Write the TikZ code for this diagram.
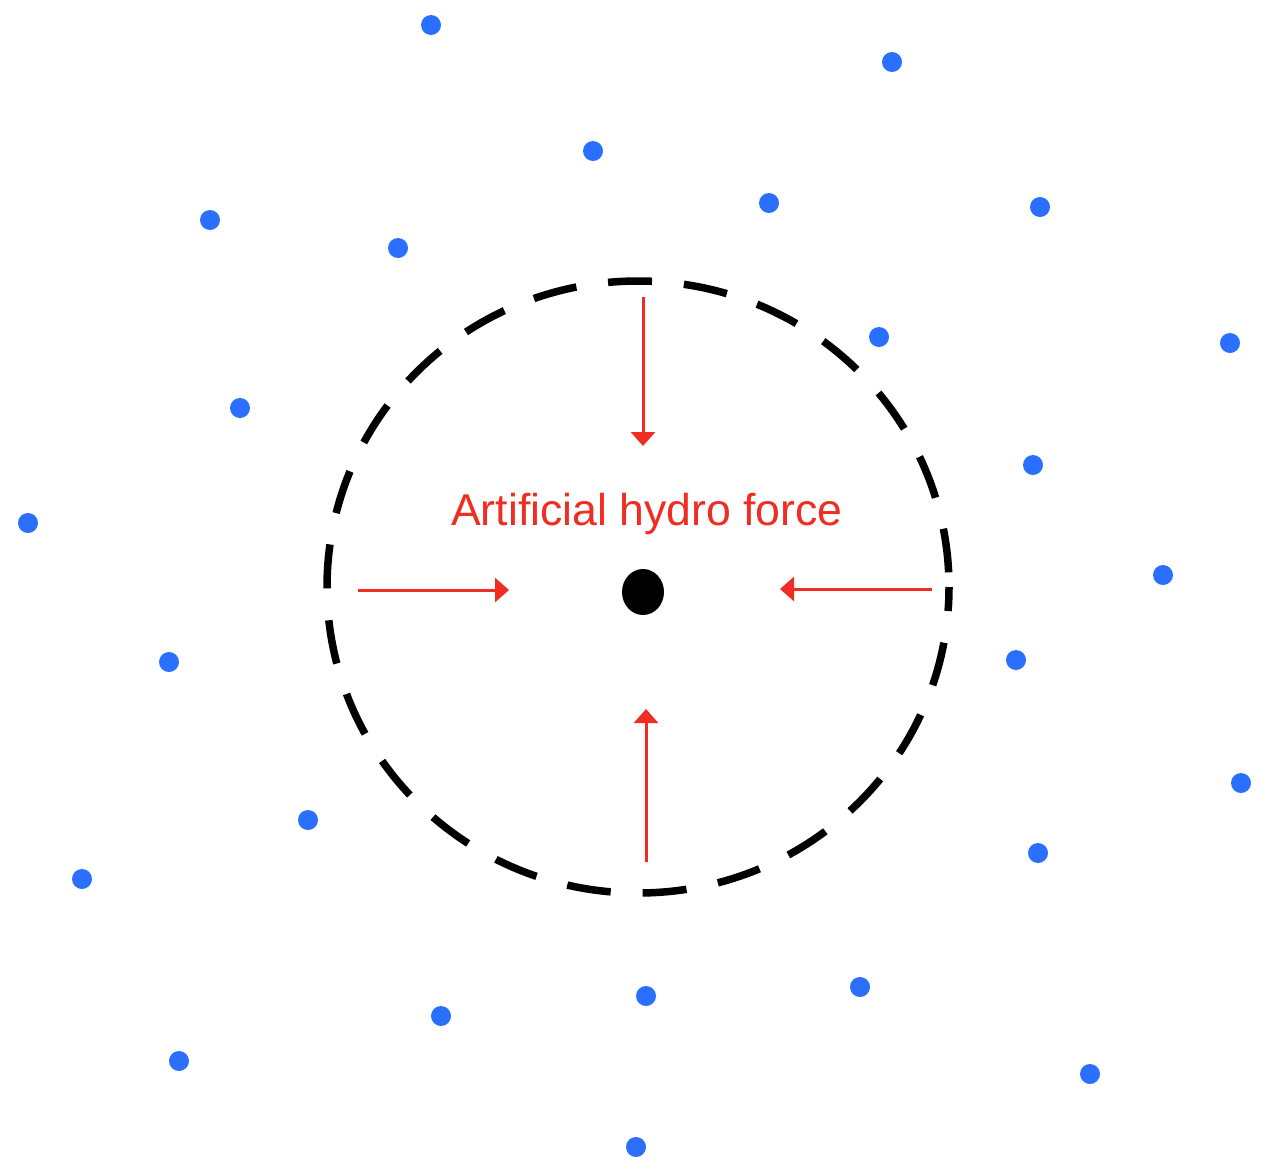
\documentclass[tikz,border=0pt]{standalone}
\usepackage{fontspec}
\setmainfont{Liberation Sans}
\usetikzlibrary{arrows.meta,shapes.geometric}
\definecolor{dotblue}{RGB}{43,111,255}
\definecolor{forcered}{RGB}{240,45,35}
\tikzset{
  particle/.style={circle,fill=dotblue,inner sep=0pt,minimum size=20pt},
  force/.style={draw=forcered,line width=3pt,-{Triangle[length=14pt,width=24pt]}},
  boundary/.style={draw=black,line width=7.5pt,dash pattern=on 44pt off 32pt,dash phase=20pt},
}
\begin{document}
\begin{tikzpicture}[x=1pt,y=-1pt]
\useasboundingbox (0,0) rectangle (1268,1160);
% kernel boundary
\draw[boundary] (638,587) ellipse [x radius=311, y radius=306];
% central particle
\node[ellipse,fill=black,inner sep=0pt,minimum width=42pt,minimum height=46pt] (c) at (643,592) {};
\node[text=forcered,font=\fontsize{44.6}{50}\selectfont,anchor=base] (lab) at (647,525) {Artificial hydro force};
% forces
\coordinate (t1) at (643,297); \coordinate (t2) at (643,446);
\coordinate (l1) at (358,590); \coordinate (l2) at (509,590);
\coordinate (r1) at (932,589); \coordinate (r2) at (780,589);
\coordinate (b1) at (646,862); \coordinate (b2) at (646,709);
\draw[force] (t1) -- (t2);
\draw[force] (l1) -- (l2);
\draw[force] (r1) -- (r2);
\draw[force] (b1) -- (b2);
% neighbour particles
\foreach \i/\x/\y in {1/431/25,2/892/62,3/593/151,4/210/220,5/769/203,6/1040/207,7/398/248,8/879/337,9/1230/343,10/240/408,11/1033/465,12/28/523,13/1163/575,14/169/662,15/1016/660,16/1241/783,17/308/820,18/82/879,19/1038/853,20/646/996,21/860/987,22/441/1016,23/179/1061,24/1090/1074,25/636/1147}
  \node[particle] (d\i) at (\x,\y) {};
\end{tikzpicture}
\end{document}
